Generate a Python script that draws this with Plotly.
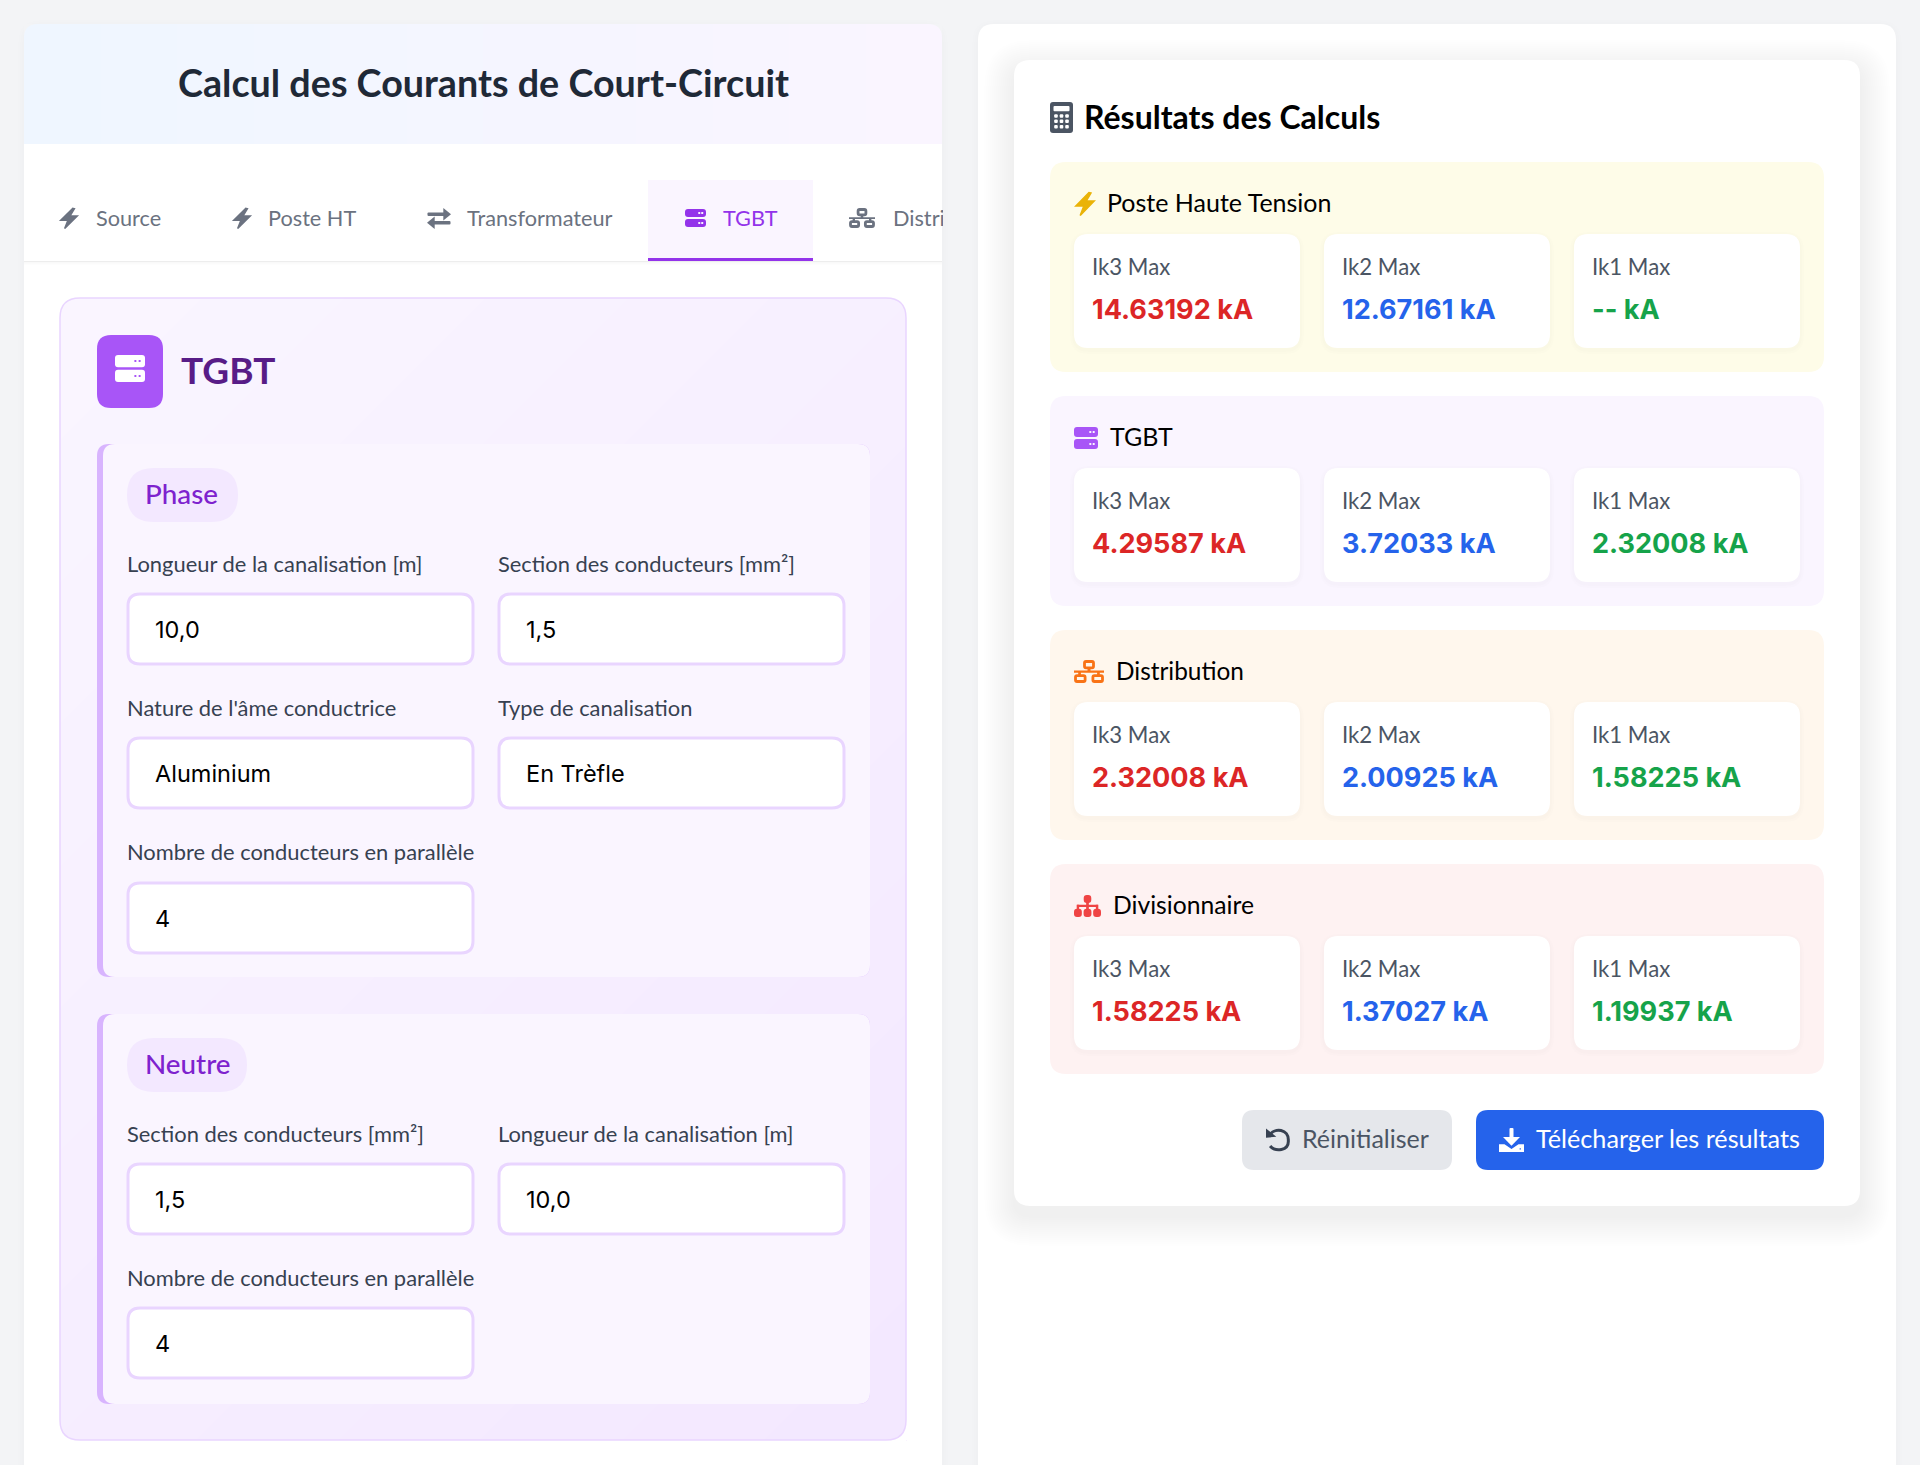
# Court-circuit calculator screen
import plotly.graph_objects as go

W, H = 1920, 1465
UI_FONT = "Lato"
NUM_FONT = "Inter"

# --- texts and values ---
page_title = "Calcul des Courants de Court-Circuit"
tab_labels = ["Source", "Poste HT", "Transformateur", "TGBT", "Distribution"]
panel_title = "TGBT"

phase_name = "Phase"
phase_labels = ["Longueur de la canalisation [m]", "Section des conducteurs [mm²]",
                "Nature de l'âme conductrice", "Type de canalisation",
                "Nombre de conducteurs en parallèle"]
phase_values = ["10,0", "1,5", "Aluminium", "En Trèfle", "4"]

neutre_name = "Neutre"
neutre_labels = ["Section des conducteurs [mm²]", "Longueur de la canalisation [m]",
                 "Nombre de conducteurs en parallèle"]
neutre_values = ["1,5", "10,0", "4"]

results_title = "Résultats des Calculs"
group_names = ["Poste Haute Tension", "TGBT", "Distribution", "Divisionnaire"]
current_names = ["Ik3 Max", "Ik2 Max", "Ik1 Max"]
ik3_values = ["14.63192", "4.29587", "2.32008", "1.58225"]
ik2_values = ["12.67161", "3.72033", "2.00925", "1.37027"]
ik1_values = ["--", "2.32008", "1.58225", "1.19937"]
current_unit = "kA"
button_labels = ["Réinitialiser", "Télécharger les résultats"]

GRAY_TXT = "#6b7280"
PURPLE = "#9333ea"

shapes = []
annotations = []


def rr_path(x0, y0, x1, y1, r=0, r_tl=None, r_tr=None, r_br=None, r_bl=None):
    tl = r if r_tl is None else r_tl
    tr = r if r_tr is None else r_tr
    br = r if r_br is None else r_br
    bl = r if r_bl is None else r_bl
    return (f"M{x0 + tl},{y0} L{x1 - tr},{y0} Q{x1},{y0} {x1},{y0 + tr} "
            f"L{x1},{y1 - br} Q{x1},{y1} {x1 - br},{y1} "
            f"L{x0 + bl},{y1} Q{x0},{y1} {x0},{y1 - bl} "
            f"L{x0},{y0 + tl} Q{x0},{y0} {x0 + tl},{y0} Z")


def add_path(path, fill=None, line=None, lw=0, opacity=1):
    shapes.append(dict(type="path", path=path, xref="x", yref="y", layer="above",
                       fillcolor=fill or "rgba(0,0,0,0)", opacity=opacity,
                       line=dict(color=line or "rgba(0,0,0,0)", width=lw)))


def rrect(x0, y0, x1, y1, r=0, fill=None, line=None, lw=0, opacity=1, **kw):
    add_path(rr_path(x0, y0, x1, y1, r, **kw), fill, line, lw, opacity)


def poly(points, fill=None, line=None, lw=0):
    add_path("M" + " L".join(f"{x},{y}" for x, y in points) + " Z", fill, line, lw)


def shadow(x0, y0, x1, y1, r, dy, blur, alpha):
    # stacked translucent boxes, poor man's box-shadow
    for i in range(blur, 0, -2):
        rrect(x0 - i, y0 + dy - i, x1 + i, y1 + dy + i, r + i,
              fill=f"rgba(0,0,0,{alpha:.4f})")


def text(x, y, s, size, color, weight=400, family=UI_FONT, anchor="left", **kw):
    x -= 1.5
    if family == UI_FONT:
        y -= 2
    annotations.append(dict(x=x, y=y, xref="x", yref="y", text=s, showarrow=False,
                            xanchor=anchor, yanchor="middle", align=anchor,
                            font=dict(family=family, size=size, color=color, weight=weight),
                            borderpad=0, **kw))


def mix(c0, c1, t):
    return "rgb(" + ",".join(str(round(a + (b - a) * t)) for a, b in zip(c0, c1)) + ")"


def diag_gradient(x0, y0, x1, y1, c0, c1, steps=14):
    # 135deg css gradient, cut in bands
    span = (x1 - x0) + (y1 - y0)
    for i in range(steps):
        s0 = x0 + y0 + span * i / steps
        s1 = x0 + y0 + span * (i + 1) / steps + 1
        pts = [(min(x1, s0 - y0), max(y0, s0 - x1))]
        if s0 < x1 + y0 < s1:
            pts.append((x1, y0))
        pts += [(min(x1, s1 - y0), max(y0, s1 - x1)), (max(x0, s1 - y1), min(y1, s1 - x0))]
        if s0 < x0 + y1 < s1:
            pts.append((x0, y1))
        pts.append((max(x0, s0 - y1), min(y1, s0 - x0)))
        poly(pts, fill=mix(c0, c1, (i + 0.5) / steps))


def corner_masks(x0, y0, x1, y1, r, fill):
    add_path(f"M{x0},{y0} L{x0 + r},{y0} Q{x0},{y0} {x0},{y0 + r} Z", fill)
    add_path(f"M{x1},{y0} L{x1},{y0 + r} Q{x1},{y0} {x1 - r},{y0} Z", fill)
    add_path(f"M{x1},{y1} L{x1 - r},{y1} Q{x1},{y1} {x1},{y1 - r} Z", fill)
    add_path(f"M{x0},{y1} L{x0},{y1 - r} Q{x0},{y1} {x0 + r},{y1} Z", fill)


# --- icons, x/y is the box top-left ---
def icon_bolt(x, y, w, h, color):
    p = [(.70, .02), (.04, .58), (.44, .58), (.26, .98), (.96, .38), (.56, .38), (.80, .04)]
    poly([(x + a * w, y + b * h) for a, b in p], fill=color, line=color, lw=1.5)


def icon_server(x, y, w, h, color, dot):
    bh = h * 0.45
    for top in (y, y + h - bh):
        rrect(x, top, x + w, top + bh, 3, fill=color)
        for dx in (.68, .82):
            rrect(x + dx * w - 1, top + bh / 2 - 1, x + dx * w + 1, top + bh / 2 + 1, 0.5, fill=dot)


def icon_exchange(x, y, w, h, color):
    mid1, mid2 = y + h * .3, y + h * .7
    rrect(x + w * .02, mid1 - 1.8, x + w * .8, mid1 + 1.8, 1, fill=color)
    poly([(x + w * .68, y), (x + w, mid1), (x + w * .68, y + h * .6)], fill=color)
    rrect(x + w * .2, mid2 - 1.8, x + w * .98, mid2 + 1.8, 1, fill=color)
    poly([(x + w * .32, y + h * .4), (x, mid2), (x + w * .32, y + h)], fill=color)


def icon_network(x, y, w, h, color):
    lw = 2.8
    rrect(x + w * .35, y + 1.5, x + w * .65, y + h * .34, 1.5, line=color, lw=lw)
    rrect(x + 1.5, y + h * .68, x + w * .37, y + h - 1.5, 1.5, line=color, lw=lw)
    rrect(x + w * .63, y + h * .68, x + w - 1.5, y + h - 1.5, 1.5, line=color, lw=lw)
    rrect(x, y + h * .46, x + w, y + h * .55, 0, fill=color)
    rrect(x + w * .45, y + h * .34, x + w * .55, y + h * .5, 0, fill=color)
    rrect(x + w * .14, y + h * .5, x + w * .23, y + h * .68, 0, fill=color)
    rrect(x + w * .77, y + h * .5, x + w * .86, y + h * .68, 0, fill=color)


def icon_sitemap(x, y, w, h, color):
    rrect(x + w * .36, y, x + w * .64, y + h * .36, 3, fill=color)
    rrect(x, y + h * .62, x + w * .29, y + h, 3, fill=color)
    rrect(x + w * .355, y + h * .62, x + w * .645, y + h, 3, fill=color)
    rrect(x + w * .71, y + h * .62, x + w, y + h, 3, fill=color)
    rrect(x + w * .45, y + h * .3, x + w * .55, y + h * .7, 0, fill=color)
    rrect(x + w * .11, y + h * .44, x + w * .89, y + h * .54, 0, fill=color)
    rrect(x + w * .1, y + h * .44, x + w * .19, y + h * .7, 0, fill=color)
    rrect(x + w * .81, y + h * .44, x + w * .9, y + h * .7, 0, fill=color)


def icon_calc(x, y, w, h, color):
    rrect(x, y, x + w, y + h, 3, fill=color)
    rrect(x + 3.5, y + 4, x + w - 3.5, y + h * .3, 1, fill="#ffffff")
    for row in (.45, .62, .8):
        for col in (.26, .5, .74):
            cx, cy = x + w * col, y + h * row
            rrect(cx - 1.8, cy - 1.8, cx + 1.8, cy + 1.8, 1, fill="#ffffff")


def icon_undo(x, y, w, h, color):
    cx, cy, r = x + w * .55, y + h * .55, w * .42
    add_path(f"M{x + w * .14},{y + h * .32} C{x + w * .38},{y - 1} {x + w * 1.0},{y + h * .05} {cx + r},{cy} "
             f"C{x + w * 1.0},{y + h * 1.0} {x + w * .4},{y + h * 1.05} {x + w * .18},{y + h * .78}",
             line=color, lw=3)
    poly([(x, y + h * .02), (x + w * .45, y + h * .38), (x, y + h * .42)], fill=color)


def icon_download(x, y, w, h, color, accent):
    rrect(x + w * .42, y, x + w * .58, y + h * .55, 1, fill=color)
    poly([(x + w * .16, y + h * .38), (x + w * .84, y + h * .38), (x + w * .5, y + h * .74)], fill=color)
    add_path(f"M{x},{y + h * .68} L{x + w * .22},{y + h * .68} L{x + w * .5},{y + h * .88} "
             f"L{x + w * .78},{y + h * .68} L{x + w},{y + h * .68} L{x + w},{y + h} L{x},{y + h} Z", fill=color)
    rrect(x + w * .82, y + h * .84, x + w * .88, y + h * .9, 0.5, fill=accent)


# --- left card ---
shadow(24, 24, 942, H + 40, 16, 2, 6, 0.004)
rrect(24, 24, 942, H + 40, 16, fill="#ffffff")

steps = 12
for i in range(steps):
    a = 24 + (942 - 24) * i / steps
    b = 24 + (942 - 24) * (i + 1) / steps + 1
    rrect(a, 24, min(b, 942), 144, fill=mix((239, 246, 255), (250, 245, 255), (i + .5) / steps))
corner_masks(24, 24, 942, 144 + 20, 14, "#f3f4f6")
rrect(24, 144, 942, 170, fill="#ffffff")
text(485, 84, page_title, 37.7, "#1f2937", weight=700, anchor="center")

# tabs
rrect(24, 261, 942, 262, fill="rgba(0,0,0,0.07)")
for i in range(3):
    rrect(24, 262, 942, 263 + i, fill="rgba(0,0,0,0.008)")
rrect(648, 180, 813, 261, fill="#faf5ff")
rrect(648, 258, 813, 261, fill=PURPLE)
icon_bolt(60, 208, 18, 21, GRAY_TXT)
icon_bolt(233, 208, 18, 21, GRAY_TXT)
icon_exchange(427, 208, 24, 21, GRAY_TXT)
icon_server(685, 209, 21, 18, PURPLE, "#faf5ff")
icon_network(849, 208, 26, 20, GRAY_TXT)
text(96, 220, tab_labels[0], 21.7, GRAY_TXT)
text(268, 220, tab_labels[1], 21.7, GRAY_TXT)
text(467, 220, tab_labels[2], 21.7, GRAY_TXT)
text(723, 220, tab_labels[3], 21.7, PURPLE)
text(893, 220, tab_labels[4], 21.7, GRAY_TXT, width=50)

# panel
PX0, PY0, PX1, PY1 = 60, 298, 906, 1440
diag_gradient(PX0, PY0, PX1, PY1, (250, 245, 255), (243, 232, 255))
corner_masks(PX0, PY0, PX1, PY1, 20, "#ffffff")
rrect(PX0, PY0, PX1, PY1, 20, line="#e9d5ff", lw=1.5)
rrect(97, 335, 163, 408, 14, fill="#a855f7")
icon_server(115, 355, 30, 27, "#ffffff", "#a855f7")
text(181, 371, panel_title, 37, "#581c87", weight=700)


def section(y0, y1, pill_y, pill_w, name):
    rrect(97, y0, 870, y1, 12, fill="#d8b4fe")
    rrect(103, y0, 870, y1, 12, fill="#faf5ff", r_tr=12, r_br=12)
    rrect(127, pill_y, 127 + pill_w, pill_y + 54, 27, fill="#f3e8ff")
    text(145, pill_y + 27, name, 27.8, "#7e22ce", weight=500)


def field(x, label_y, box_y, label, value):
    text(x, label_y, label, 21.9, "#374151")
    box_y -= 1
    rrect(x + 1, box_y + 1, x + 346, box_y + 71, 12, fill="#ffffff", line="#e9d5ff", lw=3)
    text(x + 28, box_y + 36, value, 23.5, "#000000", family=NUM_FONT)


section(444, 977, 468, 111, phase_name)
field(127, 565, 594, phase_labels[0], phase_values[0])
field(498, 565, 594, phase_labels[1], phase_values[1])
field(127, 709, 738, phase_labels[2], phase_values[2])
field(498, 709, 738, phase_labels[3], phase_values[3])
field(127, 853, 883, phase_labels[4], phase_values[4])

section(1014, 1404, 1038, 120, neutre_name)
field(127, 1135, 1164, neutre_labels[0], neutre_values[0])
field(498, 1135, 1164, neutre_labels[1], neutre_values[1])
field(127, 1279, 1308, neutre_labels[2], neutre_values[2])

# --- right card ---
shadow(978, 24, 1896, H + 40, 16, 2, 6, 0.004)
rrect(978, 24, 1896, H + 40, 16, fill="#ffffff")
shadow(1014, 60, 1860, 1206, 16, 10, 30, 0.0026)
rrect(1014, 60, 1860, 1206, 16, fill="#ffffff")
icon_calc(1050, 102, 23, 31, "#4b5563")
text(1084, 118, results_title, 32, "#000000", weight=700)

group_tops = [162, 396, 630, 864]
group_fills = ["#fefce8", "#faf5ff", "#fff7ed", "#fef2f2"]
group_text_x = [1107, 1110, 1116, 1113]
group_text_size = [25, 25, 24.4, 24.7]
card_x = [1074, 1324, 1574]
value_colors = ["#dc2626", "#2563eb", "#16a34a"]

for g, top in enumerate(group_tops):
    rrect(1050, top, 1824, top + 210, 16, fill=group_fills[g])
    text(group_text_x[g], top + 42, group_names[g], group_text_size[g], "#000000")
    row = [ik3_values[g], ik2_values[g], ik1_values[g]]
    for c, x in enumerate(card_x):
        shadow(x, top + 72, x + 226, top + 186, 14, 2, 4, 0.006)
        rrect(x, top + 72, x + 226, top + 186, 14, fill="#ffffff")
        text(x + 18, top + 106.5, current_names[c], 22.2, "#4b5563")
        text(x + 18, top + 147.5, f"{row[c]} {current_unit}", 27.1, value_colors[c],
             weight=700, family=NUM_FONT)

icon_bolt(1075, 192, 20, 24, "#eab308")
icon_server(1074, 427, 24, 22, "#a855f7", "#faf5ff")
icon_network(1074, 660, 30, 23, "#f97316")
icon_sitemap(1074, 895, 27, 22, "#ef4444")

# buttons
rrect(1242, 1110, 1452, 1170, 12, fill="#e5e7eb")
icon_undo(1266, 1128, 23, 23, "#374151")
text(1302, 1140, button_labels[0], 25, "#4b5563")
rrect(1476, 1110, 1824, 1170, 12, fill="#2563eb")
icon_download(1499, 1128, 25, 24, "#ffffff", "#2563eb")
text(1536, 1140, button_labels[1], 25.2, "#ffffff")

fig = go.Figure()
fig.update_layout(
    width=W, height=H, margin=dict(l=0, r=0, t=0, b=0),
    paper_bgcolor="#f3f4f6", plot_bgcolor="#f3f4f6",
    xaxis=dict(range=[0, W], visible=False, fixedrange=True),
    yaxis=dict(range=[H, 0], visible=False, fixedrange=True),
    shapes=shapes, annotations=annotations, showlegend=False,
)
fig.write_html("out.html", config=dict(displayModeBar=False),
               post_script="document.body.style.margin='0';document.body.style.overflow='hidden';")
